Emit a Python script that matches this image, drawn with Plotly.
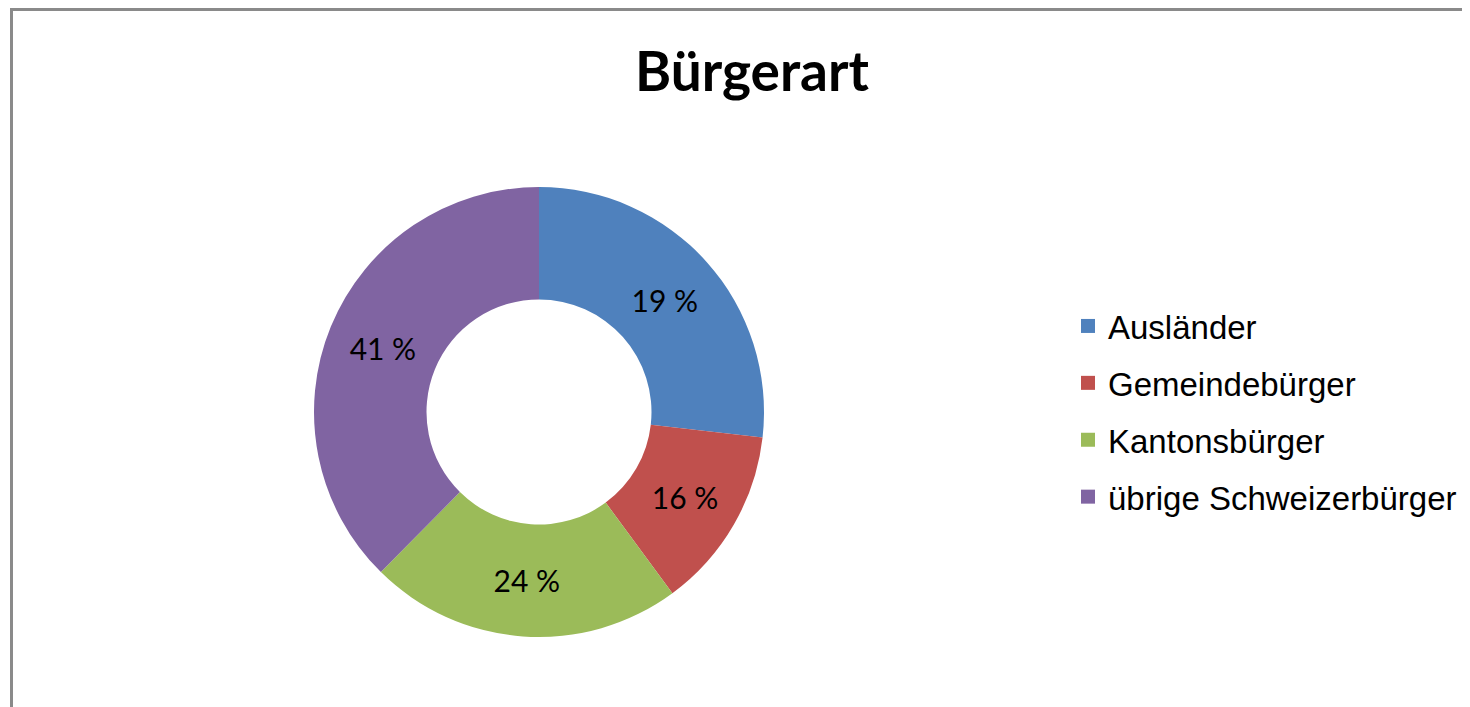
import plotly.graph_objects as go

categories = ["Ausländer", "Gemeindebürger", "Kantonsbürger", "übrige Schweizerbürger"]
slice_values = [26.8, 13.1, 22.5, 37.6]
slice_labels = ["19 %", "16 %", "24 %", "41 %"]
colors = ["#4F81BD", "#C0504D", "#9BBB59", "#8064A2"]

W, H = 1470, 707
OFF = 8  # page body margin


def px(x):
    return (x - OFF) / W


def py(y):
    return 1 - (y - OFF) / H


fig = go.Figure()
fig.add_trace(go.Pie(
    labels=categories,
    values=slice_values,
    text=slice_labels,
    textinfo="text",
    textposition="inside",
    insidetextorientation="horizontal",
    sort=False,
    direction="clockwise",
    rotation=0,
    hole=0.5,
    marker=dict(colors=colors, line=dict(width=0)),
    textfont=dict(family="Lato", size=30, color="#000000"),
    domain=dict(x=[px(314), px(764)], y=[py(637), py(187)]),
    showlegend=False,
    hoverinfo="label+value",
))

for cat, col in zip(categories, colors):
    fig.add_trace(go.Scatter(
        x=[None], y=[None], mode="markers",
        marker=dict(symbol="square", size=14, color=col),
        name=cat, legendgroup=cat, showlegend=True,
    ))

fig.update_layout(
    width=W, height=H,
    margin=dict(l=0, r=0, t=0, b=0),
    paper_bgcolor="white", plot_bgcolor="white",
    xaxis=dict(visible=False), yaxis=dict(visible=False),
    title=dict(
        text="<b>Bürgerart</b>",
        font=dict(family="Lato", size=55, color="#000000"),
        x=px(752), xanchor="center",
        y=py(72), yanchor="middle",
    ),
    legend=dict(
        x=px(1068), xanchor="left",
        y=py(298), yanchor="top",
        font=dict(family="Liberation Sans", size=33, color="#000000"),
        tracegroupgap=11,
        traceorder="grouped",
        bgcolor="rgba(0,0,0,0)",
    ),
    shapes=[
        dict(type="line", xref="paper", yref="paper",
             x0=px(11.5), x1=1.02, y0=py(9.5), y1=py(9.5),
             line=dict(color="#8a8a8a", width=3)),
        dict(type="line", xref="paper", yref="paper",
             x0=px(11.5), x1=px(11.5), y0=py(8), y1=-0.02,
             line=dict(color="#8a8a8a", width=3)),
    ],
)

fig.write_html("out.html")
